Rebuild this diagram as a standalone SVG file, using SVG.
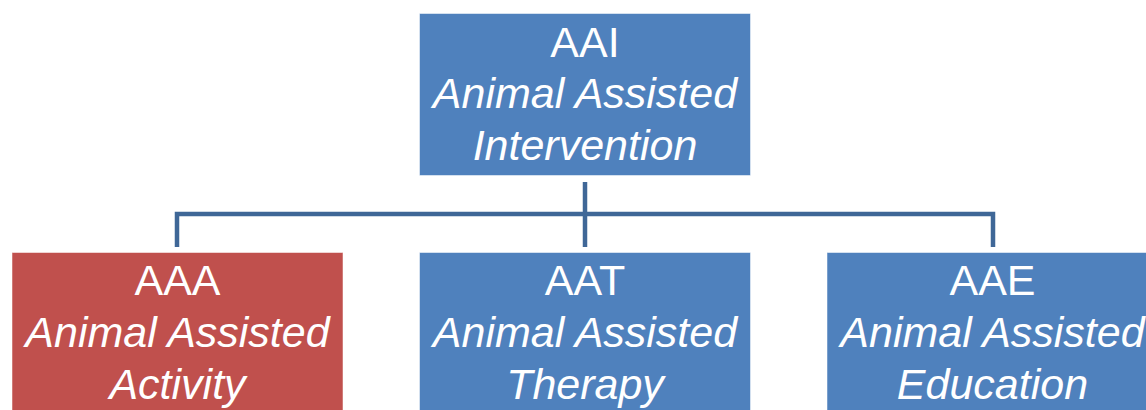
<svg xmlns="http://www.w3.org/2000/svg" width="1146" height="410" viewBox="0 0 1146 410">
<style>
.box{stroke:#ffffff;stroke-width:1;stroke-opacity:0.5}
.blue{fill:#4F81BD}
.red{fill:#C0504D}
.conn{stroke:#3F6797;stroke-width:4.5;fill:none}
text{font-family:"Liberation Sans",Arial,sans-serif;font-size:43px;fill:#ffffff;text-anchor:middle}
.it{font-style:italic}
</style>
<rect width="1146" height="410" fill="#ffffff"/>
<g id="connectors">
<line class="conn" x1="585" y1="182" x2="585" y2="247"/>
<polyline class="conn" points="177,247 177,214 993,214 993,247"/>
</g>
<g id="aai">
<rect class="box blue" x="419.5" y="13.5" width="331" height="162"/>
<text x="585" y="57">AAI</text>
<text class="it" x="585" y="108">Animal Assisted</text>
<text class="it" x="585" y="160">Intervention</text>
</g>
<g id="aaa">
<rect class="box red" x="12" y="252.5" width="331" height="162"/>
<text x="177.5" y="295">AAA</text>
<text class="it" x="177.5" y="347">Animal Assisted</text>
<text class="it" x="177.5" y="399">Activity</text>
</g>
<g id="aat">
<rect class="box blue" x="419.5" y="252.5" width="331" height="162"/>
<text x="585" y="295">AAT</text>
<text class="it" x="585" y="347">Animal Assisted</text>
<text class="it" x="585" y="399">Therapy</text>
</g>
<g id="aae">
<rect class="box blue" x="827" y="252.5" width="331" height="162"/>
<text x="992.5" y="295">AAE</text>
<text class="it" x="992.5" y="347">Animal Assisted</text>
<text class="it" x="992.5" y="399">Education</text>
</g>
</svg>
